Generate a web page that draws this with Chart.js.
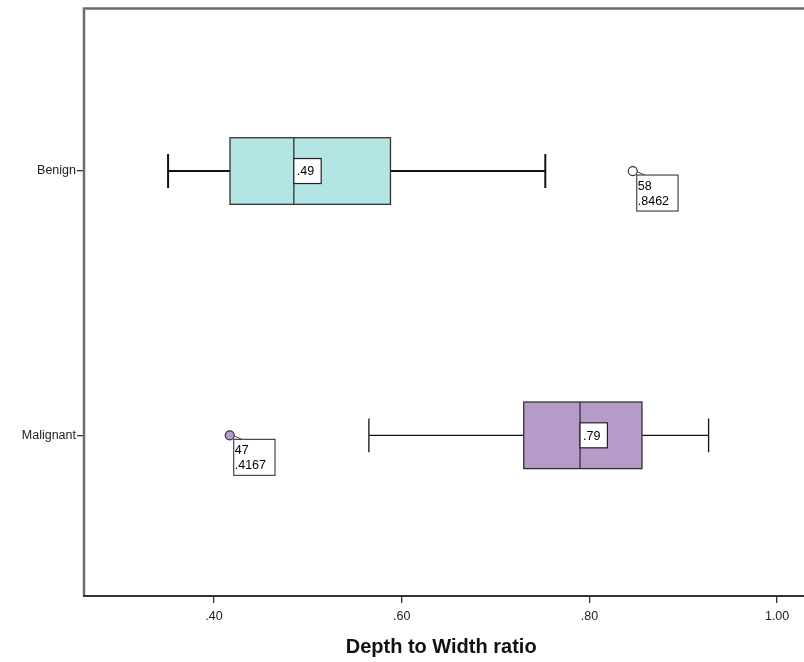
<!DOCTYPE html>
<html>
<head>
<meta charset="utf-8">
<script src="https://cdn.jsdelivr.net/npm/chart.js@4.4.1/dist/chart.umd.min.js"></script>
<style>
  html, body { margin: 0; padding: 0; background: #fff; overflow: hidden; }
  #wrap { position: relative; width: 804px; height: 662px; }
</style>
</head>
<body>
<div id="wrap"><canvas id="c"></canvas></div>
<script>
// ---- data ----
const categories = ['Benign', 'Malignant'];
const whiskerLow  = [0.351, 0.565];
const q1          = [0.417, 0.730];
const median      = [0.485, 0.790];
const q3          = [0.588, 0.856];
const whiskerHigh = [0.753, 0.927];
const medianLabels = ['.49', '.79'];
const outlierValues = [0.8462, 0.4167];
const outlierCase   = ['58', '47'];
const outlierLabels = ['.8462', '.4167'];
const xTicks = [0.4, 0.6, 0.8, 1.0];
const xTitle = 'Depth to Width ratio';

// ---- styles ----
const boxColors = ['#b3e5e5', '#b69ac8'];
const whiskerWidths = [2, 1.3];
const outlierFill = ['#ffffff', '#b69ac8'];
const FONT = '"Liberation Sans", Arial, sans-serif';

const boxplotPlugin = {
  id: 'boxplot',
  beforeDatasetsDraw(chart) {
    const ctx = chart.ctx;
    const xs = chart.scales.x, ys = chart.scales.y;
    const halfBox = 0.126, halfCap = 0.064;
    ctx.save();
    categories.forEach((cat, i) => {
      const yc = ys.getPixelForValue(i);
      const yt = ys.getPixelForValue(i - halfBox);
      const yb = ys.getPixelForValue(i + halfBox);
      const cT = ys.getPixelForValue(i - halfCap);
      const cB = ys.getPixelForValue(i + halfCap);
      const xl = xs.getPixelForValue(whiskerLow[i]);
      const x1 = xs.getPixelForValue(q1[i]);
      const xm = xs.getPixelForValue(median[i]);
      const x3 = xs.getPixelForValue(q3[i]);
      const xh = xs.getPixelForValue(whiskerHigh[i]);
      // whiskers
      ctx.strokeStyle = '#111';
      ctx.lineWidth = whiskerWidths[i];
      ctx.beginPath();
      ctx.moveTo(xl, yc); ctx.lineTo(x1, yc);
      ctx.moveTo(x3, yc); ctx.lineTo(xh, yc);
      ctx.moveTo(xl, cT); ctx.lineTo(xl, cB);
      ctx.moveTo(xh, cT); ctx.lineTo(xh, cB);
      ctx.stroke();
      // box
      ctx.fillStyle = boxColors[i];
      ctx.fillRect(x1, yt, x3 - x1, yb - yt);
      ctx.strokeStyle = '#333';
      ctx.lineWidth = 1.3;
      ctx.strokeRect(x1, yt, x3 - x1, yb - yt);
      // median
      ctx.beginPath();
      ctx.moveTo(xm, yt); ctx.lineTo(xm, yb);
      ctx.stroke();
      // median label
      ctx.font = '12.5px ' + FONT;
      const tw = ctx.measureText(medianLabels[i]).width;
      const lw = tw + 10, lh = 25;
      ctx.fillStyle = '#fff';
      ctx.fillRect(xm, yc - lh / 2, lw, lh);
      ctx.strokeStyle = '#222';
      ctx.lineWidth = 1.2;
      ctx.strokeRect(xm, yc - lh / 2, lw, lh);
      ctx.fillStyle = '#000';
      ctx.textBaseline = 'middle';
      ctx.textAlign = 'left';
      ctx.fillText(medianLabels[i], xm + 3, yc + 1);
      // outlier label
      const ox = xs.getPixelForValue(outlierValues[i]);
      ctx.strokeStyle = '#444';
      ctx.lineWidth = 1;
      ctx.beginPath();
      ctx.moveTo(ox + 3, yc); ctx.lineTo(ox + 12, yc + 4);
      ctx.stroke();
      const bx = ox + 4, by = yc + 4;
      const bw = Math.max(ctx.measureText(outlierCase[i]).width, ctx.measureText(outlierLabels[i]).width) + 10;
      ctx.fillStyle = '#fff';
      ctx.fillRect(bx, by, bw, 36);
      ctx.strokeStyle = '#222';
      ctx.strokeRect(bx, by, bw, 36);
      ctx.fillStyle = '#000';
      ctx.textBaseline = 'alphabetic';
      ctx.fillText(outlierCase[i], bx + 1, by + 15);
      ctx.fillText(outlierLabels[i], bx + 1, by + 30);
    });
    ctx.restore();
  },
  afterDraw(chart) {
    const ctx = chart.ctx, a = chart.chartArea;
    ctx.save();
    ctx.strokeStyle = '#6e6e6e';
    ctx.lineWidth = 2.5;
    ctx.beginPath();
    ctx.moveTo(a.left, a.bottom);
    ctx.lineTo(a.left, a.top);
    ctx.lineTo(a.right + 10, a.top);
    ctx.stroke();
    ctx.strokeStyle = '#333';
    ctx.lineWidth = 2;
    ctx.beginPath();
    ctx.moveTo(a.left - 1, a.bottom);
    ctx.lineTo(a.right + 10, a.bottom);
    ctx.stroke();
    ctx.restore();
  }
};

const outlierData = outlierValues.map((v, i) => ({ x: v, y: i }));

new Chart(document.getElementById('c'), {
  type: 'scatter',
  data: {
    datasets: [{
      data: outlierData,
      pointRadius: 4.5,
      pointHoverRadius: 4.5,
      pointBackgroundColor: outlierFill,
      pointBorderColor: '#333',
      pointBorderWidth: 1.2
    }]
  },
  options: {
    responsive: true,
    maintainAspectRatio: false,
    animation: false,
    events: [],
    layout: { padding: { top: 7, right: 0, left: 0, bottom: 0 } },
    plugins: { legend: { display: false }, tooltip: { enabled: false } },
    scales: {
      x: {
        type: 'linear',
        min: 0.2614,
        max: 1.0226,
        afterBuildTicks: (s) => { s.ticks = xTicks.map(v => ({ value: v })); },
        afterFit: (s) => { s.height = 66; },
        grid: { drawOnChartArea: false, drawTicks: true, tickLength: 7, color: '#333', lineWidth: 1.3 },
        border: { display: false },
        ticks: {
          color: '#222',
          font: { family: FONT, size: 12.5 },
          padding: 6,
          maxRotation: 0,
          callback: (v) => { const s = Number(v).toFixed(2); return s.startsWith('0') ? s.slice(1) : s; }
        },
        title: {
          display: true,
          text: xTitle,
          color: '#111',
          font: { family: FONT, size: 20, weight: 'bold' },
          padding: { top: 6, bottom: 3 }
        }
      },
      y: {
        type: 'linear',
        reverse: true,
        min: -0.615,
        max: 1.608,
        afterBuildTicks: (s) => { s.ticks = categories.map((c, i) => ({ value: i })); },
        afterFit: (s) => { s.width = 84; },
        grid: { drawOnChartArea: false, drawTicks: true, tickLength: 7, color: '#333', lineWidth: 1.3 },
        border: { display: false },
        ticks: {
          color: '#222',
          font: { family: FONT, size: 12.5 },
          padding: 1,
          callback: (v) => categories[v]
        }
      }
    }
  },
  plugins: [boxplotPlugin]
});
</script>
</body>
</html>
